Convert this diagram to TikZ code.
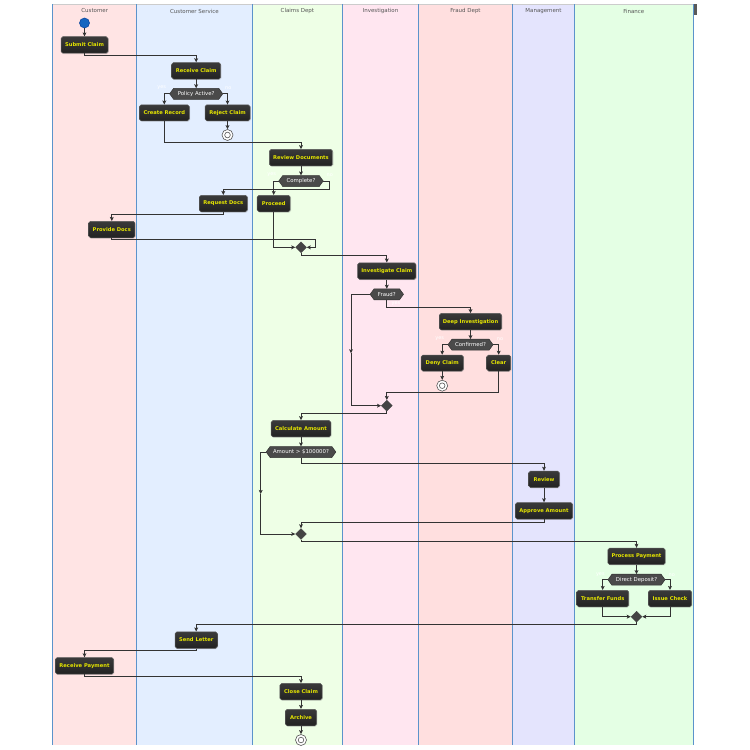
\documentclass[tikz,border=0pt]{standalone}
\usepackage{fontspec}
\setmainfont{DejaVu Sans}
\usetikzlibrary{arrows.meta,shapes.geometric,shadows}
\definecolor{laneA}{HTML}{FFE4E4}
\definecolor{laneB}{HTML}{E3EEFF}
\definecolor{laneC}{HTML}{EEFFE6}
\definecolor{laneD}{HTML}{FFE6F0}
\definecolor{laneE}{HTML}{FFDFDF}
\definecolor{laneF}{HTML}{E4E4FD}
\definecolor{laneG}{HTML}{E4FFE4}
\definecolor{laneline}{HTML}{5B93CB}
\definecolor{headcol}{HTML}{555555}
\definecolor{acttop}{HTML}{3A3A3A}
\definecolor{actbot}{HTML}{222222}
\definecolor{actborder}{HTML}{5A5A5A}
\definecolor{actyellow}{HTML}{E6E600}
\definecolor{hexfill}{HTML}{4A4A4A}
\definecolor{hexborder}{HTML}{333333}
\definecolor{mergfill}{HTML}{444444}
\definecolor{endcol}{HTML}{555555}
\definecolor{startfill}{HTML}{1565C0}
\definecolor{startborder}{HTML}{0D47A1}
\definecolor{linecol}{HTML}{333333}
\pgfdeclarelayer{lanes}
\pgfdeclarelayer{under}
\pgfsetlayers{lanes,under,main}
\tikzset{
  act/.style={rectangle, rounded corners=1.8bp, draw=actborder, line width=0.5bp,
    top color=acttop, bottom color=actbot, text=actyellow,
    font=\fontsize{5.2}{6}\selectfont\bfseries, inner sep=0pt, minimum height=16.5bp,
    drop shadow={shadow xshift=0.8bp,shadow yshift=-0.8bp,opacity=0.25}},
  hexd/.style={rectangle, text=white, font=\fontsize{5.4}{6}\selectfont,
    inner sep=0pt, minimum height=10.6bp},
  hexshape/.style={draw=hexborder, line width=0.5bp, fill=hexfill},
  mergd/.style={diamond, fill=mergfill, draw=mergfill, inner sep=0pt,
    minimum width=11bp, minimum height=11bp},
  endn/.style={circle, draw=endcol, fill=white, line width=0.6bp, minimum size=11bp,
    inner sep=0pt, path picture={\draw[endcol,line width=0.6bp]
      (path picture bounding box.center) circle (2.8bp);}},
  startn/.style={circle, fill=startfill, draw=startborder, line width=0.6bp,
    minimum size=10bp, inner sep=0pt},
  flow/.style={draw=linecol, line width=1bp, -{Stealth[length=4bp,width=3.8bp,inset=0.8bp]}},
  lbl/.style={text=white, font=\fontsize{5}{6}\selectfont, inner sep=0pt},
  lanehead/.style={text=headcol, font=\fontsize{5.5}{6.5}\selectfont, inner sep=0pt},
  laneedge/.style={draw=laneline, line width=1bp},
}
\newcommand\hexfor[1]{%
  \begin{pgfonlayer}{under}
  \filldraw[hexshape] (#1.west) -- ([xshift=4bp]#1.north west) -- ([xshift=-4bp]#1.north east)
    -- (#1.east) -- ([xshift=-4bp]#1.south east) -- ([xshift=4bp]#1.south west) -- cycle;
  \end{pgfonlayer}}
\begin{document}
\begin{tikzpicture}[x=1bp,y=-1bp]
\useasboundingbox (0,0) rectangle (750,750);
\begin{pgfonlayer}{lanes}
\fill[white] (0,0) rectangle (750,750);
\fill[laneA] (52.7,4.3) rectangle (136.7,745);
\fill[laneB] (136.7,4.3) rectangle (252,745);
\fill[laneC] (252,4.3) rectangle (342.7,745);
\fill[laneD] (342.7,4.3) rectangle (418.3,745);
\fill[laneE] (418.3,4.3) rectangle (512.7,745);
\fill[laneF] (512.7,4.3) rectangle (574.3,745);
\fill[laneG] (574.3,4.3) rectangle (693.3,745);
\draw[draw=black!20, line width=1.2bp] (52.7,4.3) -- (693.3,4.3);
\fill[black!65] (693.5,4) rectangle (696.5,15.5);
\foreach \xx in {52.7,136.7,252,342.7,418.3,512.7,574.3,693.3}
  \draw[laneedge] (\xx,4.3) -- (\xx,745);
\end{pgfonlayer}
\node[lanehead] (h1) at (94.7,11) {Customer};
\node[lanehead] (h2) at (194.4,11) {Customer Service};
\node[lanehead] (h3) at (297.4,11) {Claims Dept};
\node[lanehead] (h4) at (380.5,11) {Investigation};
\node[lanehead] (h5) at (465.5,11) {Fraud Dept};
\node[lanehead] (h6) at (543.5,11) {Management};
\node[lanehead] (h7) at (633.8,11) {Finance};
% nodes
\node[startn] (st) at (84.5,23) {};
\node[act, minimum width=47bp] (sc) at (84.5,45) {Submit Claim};
\node[act, minimum width=49bp] (rc) at (196.2,70.8) {Receive Claim};
\node[hexd, minimum width=52.7bp] (pa) at (196.2,93.8) {Policy Active?};
\node[act, minimum width=50bp, minimum height=16bp] (cr) at (164.3,112.8) {Create Record};
\node[act, minimum width=45bp, minimum height=16bp] (rj) at (227.5,112.8) {Reject Claim};
\node[endn] (e1) at (227.5,135) {};
\node[act, minimum width=63.4bp] (rd) at (301,157.7) {Review Documents};
\node[hexd, minimum width=44bp] (cp) at (301,181) {Complete?};
\node[act, minimum width=48bp] (rq) at (223.3,203.5) {Request Docs};
\node[act, minimum width=33bp] (pr) at (273.7,203.5) {Proceed};
\node[act, minimum width=46.3bp] (pd) at (111.8,229.5) {Provide Docs};
\node[mergd] (m1) at (301,247.3) {};
\node[act, minimum width=58.3bp] (ic) at (386.8,271) {Investigate Claim};
\node[hexd, minimum width=33bp] (fr) at (386.8,294.3) {Fraud?};
\node[act, minimum width=62.4bp] (di) at (470.5,321.7) {Deep Investigation};
\node[hexd, minimum width=44.7bp] (cf) at (470.5,344.7) {Confirmed?};
\node[act, minimum width=42.3bp, minimum height=16bp] (dc) at (442.2,363) {Deny Claim};
\node[act, minimum width=24bp, minimum height=16bp] (cl) at (498.7,363) {Clear};
\node[endn] (e2) at (442.2,385.7) {};
\node[mergd] (m2) at (386.8,405.7) {};
\node[act, minimum width=59.7bp] (ca) at (301,428.7) {Calculate Amount};
\node[hexd, minimum width=69.3bp] (am) at (301,452) {Amount > \$100000?};
\node[act, minimum width=30.7bp] (rv) at (544,479.3) {Review};
\node[act, minimum width=57.3bp] (ap) at (544,510.8) {Approve Amount};
\node[mergd] (m3) at (301,534) {};
\node[act, minimum width=57.3bp] (pp) at (636.5,556.3) {Process Payment};
\node[hexd, minimum width=56.7bp] (dd) at (636.5,579.7) {Direct Deposit?};
\node[act, minimum width=52bp] (tf) at (602.7,598.5) {Transfer Funds};
\node[act, minimum width=43.3bp] (is) at (670,598.5) {Issue Check};
\node[mergd] (m4) at (636.5,616.7) {};
\node[act, minimum width=42.3bp] (sl) at (196.2,640) {Send Letter};
\node[act, minimum width=58.3bp] (rp) at (84.5,665.8) {Receive Payment};
\node[act, minimum width=42.3bp] (cc) at (301,691.7) {Close Claim};
\node[act, minimum width=31.3bp] (ar) at (301,717.5) {Archive};
\node[endn] (e3) at (301,740) {};
\hexfor{pa}\hexfor{cp}\hexfor{fr}\hexfor{cf}\hexfor{am}\hexfor{dd}
% branch labels
\node[lbl] (l1) at (161.7,88) {yes};
\node[lbl] (l2) at (228.3,88) {no};
\node[lbl] (l3) at (271.7,174.7) {yes};
\node[lbl] (l4) at (329.7,174.7) {no};
\node[lbl] (l5) at (396,303.5) {yes};
\node[lbl] (l6) at (439.7,339) {yes};
\node[lbl] (l7) at (500,339) {no};
\node[lbl] (l8) at (600.3,575) {yes};
\node[lbl] (l9) at (671.7,575) {no};
% helper coordinates
\coordinate (fm) at (351,353.3);
\coordinate (amid) at (260.7,494);
% connectors
\draw[flow] (st) -- (sc);
\draw[flow] (sc.south) -- ++(0,2.5) -| (rc.north);
\draw[flow] (rc) -- (pa);
\draw[flow] (pa.west) -| (cr.north);
\draw[flow] (pa.east) -| (rj.north);
\draw[flow] (rj) -- (e1);
\draw[flow] (cr.south) -- ++(0,21.5) -| (rd.north);
\draw[flow] (rd) -- (cp);
\draw[flow] (cp.west) -| (pr.north);
\draw[flow] (cp.east) -- ++(6,0) -- ++(0,8.3) -| (rq.north);
\draw[flow] (rq.south) -- ++(0,2.3) -| (pd.north);
\draw[flow] (pd.south) -- ++(0,1.7) -| ([xshift=8.5bp]m1.east) -- (m1.east);
\draw[flow] (pr.south) |- (m1.west);
\draw[flow] (m1.south) -- ++(0,2.5) -| (ic.north);
\draw[flow] (ic) -- (fr);
\draw[flow] (fr.west) -| (fm);
\draw[flow] (fm) |- (m2.west);
\draw[flow] (fr.south) -- ++(0,7.4) -| (di.north);
\draw[flow] (di) -- (cf);
\draw[flow] (cf.west) -| (dc.north);
\draw[flow] (cf.east) -| (cl.north);
\draw[flow] (dc) -- (e2);
\draw[flow] (cl.south) -- ++(0,21.7) -| (m2.north);
\draw[flow] (m2.south) -- ++(0,2.2) -| (ca.north);
\draw[flow] (ca) -- (am);
\draw[flow] (am.west) -| (amid);
\draw[flow] (amid) |- (m3.west);
\draw[flow] (am.south) -- ++(0,6) -| (rv.north);
\draw[flow] (rv) -- (ap);
\draw[flow] (ap.south) -- ++(0,2.7) -| (m3.north);
\draw[flow] (m3.south) -- ++(0,2.2) -| (pp.north);
\draw[flow] (pp) -- (dd);
\draw[flow] (dd.west) -| (tf.north);
\draw[flow] (dd.east) -| (is.north);
\draw[flow] (tf.south) |- (m4.west);
\draw[flow] (is.south) |- (m4.east);
\draw[flow] (m4.south) -- ++(0,2.1) -| (sl.north);
\draw[flow] (sl.south) -- ++(0,2) -| (rp.north);
\draw[flow] (rp.south) -- ++(0,2) -| (cc.north);
\draw[flow] (cc) -- (ar);
\draw[flow] (ar) -- (e3);
\end{tikzpicture}
\end{document}
